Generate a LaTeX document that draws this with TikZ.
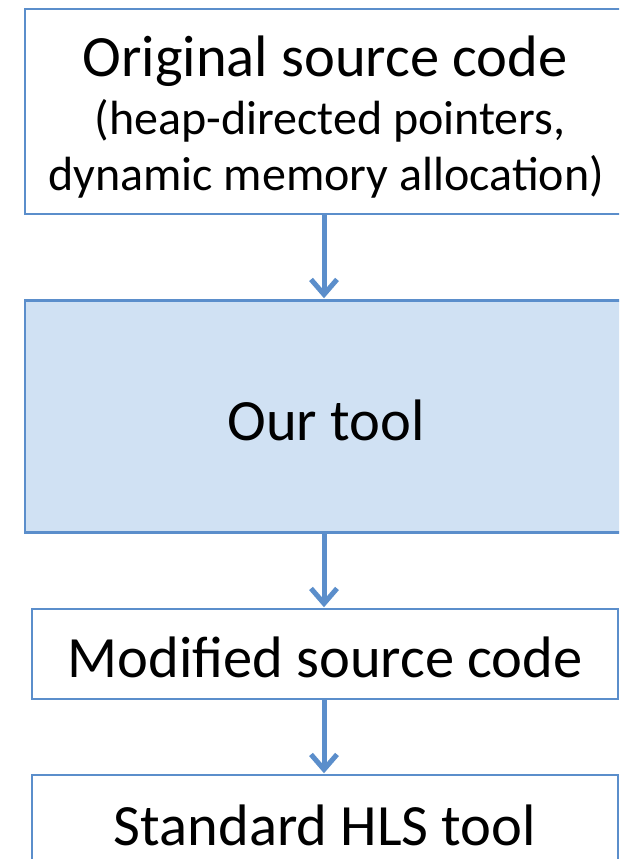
\documentclass[tikz,border=0pt]{standalone}
\usepackage{fontspec}
\setmainfont{Carlito}
\usetikzlibrary{arrows.meta}
\definecolor{edge}{HTML}{5B8ECB}
\definecolor{toolfill}{HTML}{D0E1F3}
\tikzset{
  box/.style={draw=edge, line width=1.5pt, fill=white, inner sep=0pt},
  toolbox/.style={draw=edge, line width=2.5pt, fill=toolfill, inner sep=0pt},
  flow/.style={draw=edge, line width=5pt,
    -{Straight Barb[length=15pt, width=26pt, line width=5pt]}, shorten >=1pt},
  label/.style={anchor=base, inner sep=0pt, text=black},
  bigtext/.style={label, font=\fontsize{58.5}{70}\selectfont},
  subtext/.style={label, font=\fontsize{48}{58}\selectfont}
}
\begin{document}
\begin{tikzpicture}[x=1pt, y=-1pt]
  \clip (0,0) rectangle (619,859);
  \fill[white] (0,0) rectangle (619,859);

  % boxes
  \node[box, minimum width=615pt, minimum height=205pt] (src) at (332.5,111.5) {};
  \node[toolbox, minimum width=615pt, minimum height=232pt] (tool) at (332.5,416.5) {};
  \node[box, minimum width=586pt, minimum height=90pt] (mod) at (325,654) {};
  \node[box, minimum width=586pt, minimum height=110pt] (hls) at (325,830) {};

  % texts
  \node[bigtext] (t1) at (325,77) {Original source code};
  \node[subtext] (t2) at (330,134) {(heap-directed pointers,};
  \node[subtext] (t3) at (326,190) {dynamic memory allocation)};
  \node[bigtext] (t4) at (326,440) {Our tool};
  \node[bigtext] (t5) at (325,677) {Modified source code};
  \node[bigtext] (t6) at (325,845) {Standard HLS tool};

  % connectors
  \coordinate (ax) at (324,0);
  \draw[flow] (src.south -| ax) -- (tool.north -| ax);
  \draw[flow] (tool.south -| ax) -- (mod.north -| ax);
  \draw[flow] (mod.south -| ax) -- (hls.north -| ax);
\end{tikzpicture}
\end{document}
